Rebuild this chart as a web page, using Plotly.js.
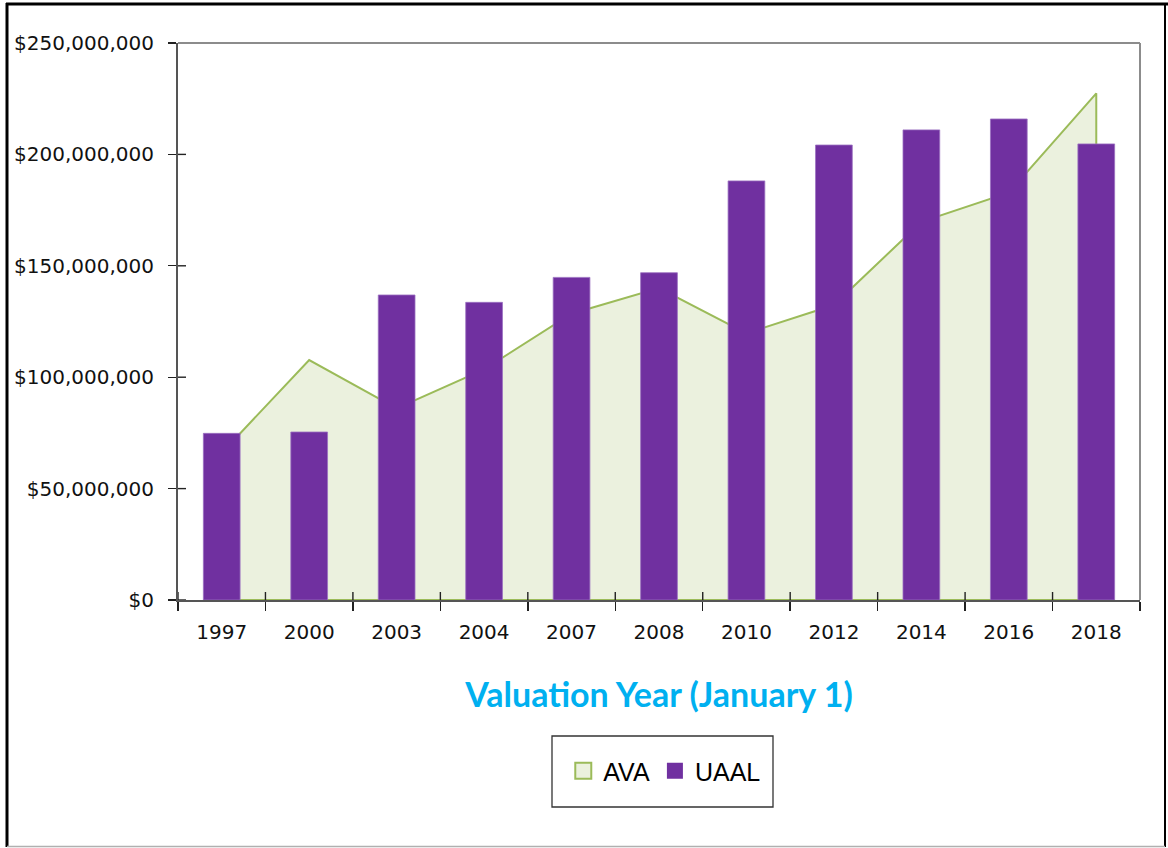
<!DOCTYPE html>
<html>
<head>
<meta charset="utf-8">
<script src="https://cdn.plot.ly/plotly-3.0.1.min.js"></script>
<style>
  html, body { margin: 0; padding: 0; background: #ffffff; }
  #chart { width: 1168px; height: 848px; }
</style>
</head>
<body>
<div id="chart"></div>
<script>
// Valuation years (categories)
const years = ['1997', '2000', '2003', '2004', '2007', '2008', '2010', '2012', '2014', '2016', '2018'];
// Actuarial Value of Assets (area)
const ava = [66000000, 107700000, 86000000, 103500000, 128500000, 140000000, 119700000, 132400000, 169700000, 182800000, 227400000];
// Unfunded Actuarial Accrued Liability (bars)
const uaal = [74800000, 75400000, 136900000, 133600000, 144800000, 146900000, 188100000, 204200000, 211000000, 215900000, 204700000];
// Y axis ticks
const yTickVals = [0, 50000000, 100000000, 150000000, 200000000, 250000000];
const yTickText = ['$0', '$50,000,000', '$100,000,000', '$150,000,000', '$200,000,000', '$250,000,000'];
const seriesNames = ['AVA', 'UAAL'];
const xTitle = 'Valuation Year (January 1)';

const green = '#9BBB59';
const greenFill = '#EBF1DE';
const purple = '#7030A0';

// closed area polygon built from the data arrays
const last = years.length - 1;
const areaX = years.concat([years[last], years[0], years[0]]);
const areaY = ava.concat([0, 0, ava[0]]);

const traces = [
  {
    type: 'scatter', mode: 'lines', name: seriesNames[0],
    x: areaX, y: areaY, xaxis: 'x', yaxis: 'y',
    fill: 'toself', fillcolor: greenFill,
    line: { color: green, width: 2 },
    showlegend: false, hoverinfo: 'skip'
  },
  {
    type: 'bar', name: seriesNames[1],
    x: years, y: uaal, xaxis: 'x2', yaxis: 'y2',
    width: 0.42,
    marker: { color: purple, line: { color: '#9a70c0', width: 0.8 } },
    showlegend: false
  },
  // legend entries
  {
    type: 'scatter', mode: 'markers', name: seriesNames[0],
    x: [null], y: [null], xaxis: 'x', yaxis: 'y',
    marker: { symbol: 'square', size: 16, color: greenFill, line: { color: green, width: 2 } }
  },
  {
    type: 'scatter', mode: 'markers', name: seriesNames[1],
    x: [null], y: [null], xaxis: 'x', yaxis: 'y',
    marker: { symbol: 'square', size: 17, color: purple, line: { color: purple, width: 0 } }
  }
];

const yRange = [0, yTickVals[yTickVals.length - 1]];
const tickFont = { family: 'DejaVu Sans, sans-serif', size: 20, color: '#111111' };

const px = v => (v - 178) / 962;
const py = v => (600 - v) / 557;

// inner halves of the crossing tick marks (decoration)
const tickColor = '#222222';
const innerTicks = [];
yTickVals.forEach(v => innerTicks.push({
  type: 'line', xref: 'paper', yref: 'y', x0: 0, x1: 8 / 962, y0: v, y1: v,
  line: { color: tickColor, width: 1.4 }, layer: 'above'
}));
for (let i = 0; i <= years.length; i++) {
  innerTicks.push({
    type: 'line', xref: 'x', yref: 'paper', x0: i - 0.5, x1: i - 0.5, y0: 0, y1: 8 / 557,
    line: { color: tickColor, width: 1.4 }, layer: 'above'
  });
}

const layout = {
  width: 1168, height: 848,
  margin: { l: 178, r: 28, t: 43, b: 248 },
  paper_bgcolor: '#ffffff', plot_bgcolor: 'rgba(0,0,0,0)',
  showlegend: true,
  legend: {
    orientation: 'h', x: 0.506, xanchor: 'center', y: py(771), yanchor: 'middle',
    bgcolor: 'rgba(0,0,0,0)', borderwidth: 0,
    font: { family: 'Liberation Sans, Arial, sans-serif', size: 25, color: '#000' },
    itemclick: false, itemdoubleclick: false
  },
  xaxis: {
    type: 'category', categoryorder: 'array', categoryarray: years,
    range: [-0.5, years.length - 0.5], tickmode: 'linear', tick0: 0, dtick: 1,
    showline: true, linecolor: '#555555', linewidth: 2,
    ticks: 'outside', ticklen: 9, tickwidth: 1.4, tickcolor: tickColor,
    tickson: 'boundaries', showgrid: false, zeroline: false,
    tickfont: tickFont, ticklabelstandoff: 13,
    title: { text: xTitle, standoff: 40,
      font: { family: 'Lato, sans-serif', size: 34, color: '#00B0F0', weight: 'bold' } },
    fixedrange: true
  },
  yaxis: {
    range: yRange, tickmode: 'array', tickvals: yTickVals, ticktext: yTickText,
    showline: true, linecolor: '#555555', linewidth: 2,
    ticks: 'outside', ticklen: 8, tickwidth: 1.4, tickcolor: tickColor,
    showgrid: false, zeroline: false,
    tickfont: tickFont, ticklabelstandoff: 10,
    fixedrange: true
  },
  xaxis2: {
    type: 'category', categoryorder: 'array', categoryarray: years,
    range: [-0.5, years.length - 0.5],
    overlaying: 'x', anchor: 'y2',
    showline: false, showticklabels: false, showgrid: false, zeroline: false,
    ticks: '', fixedrange: true
  },
  yaxis2: {
    range: yRange, overlaying: 'y', anchor: 'x2', side: 'left',
    showline: false, showticklabels: false, showgrid: false, zeroline: false,
    ticks: '', fixedrange: true
  },
  shapes: innerTicks.concat([
    // plot area top and right border
    { type: 'line', xref: 'paper', yref: 'paper', x0: 0, x1: 1, y0: 1, y1: 1, line: { color: '#8c8c8c', width: 2 } },
    { type: 'line', xref: 'paper', yref: 'paper', x0: 1, x1: 1, y0: 0, y1: 1, line: { color: '#8c8c8c', width: 2 } },
    // legend box
    { type: 'rect', xref: 'paper', yref: 'paper', x0: px(552), x1: px(773), y0: py(736), y1: py(807),
      line: { color: '#333333', width: 1.3 }, fillcolor: 'rgba(0,0,0,0)' },
    // outer frame
    { type: 'line', xref: 'paper', yref: 'paper', x0: px(7), x1: px(7), y0: py(3), y1: py(847), line: { color: '#000', width: 3 } },
    { type: 'line', xref: 'paper', yref: 'paper', x0: px(6), x1: px(1168), y0: py(4), y1: py(4), line: { color: '#000', width: 3 } },
    { type: 'line', xref: 'paper', yref: 'paper', x0: px(1165), x1: px(1165), y0: py(3), y1: py(847), line: { color: '#000', width: 2 } },
    { type: 'line', xref: 'paper', yref: 'paper', x0: px(7), x1: px(1165), y0: py(846.5), y1: py(846.5), line: { color: '#b0b0b0', width: 1.5 } }
  ])
};

Plotly.newPlot('chart', traces, layout, { displayModeBar: false, staticPlot: true });
</script>
</body>
</html>
